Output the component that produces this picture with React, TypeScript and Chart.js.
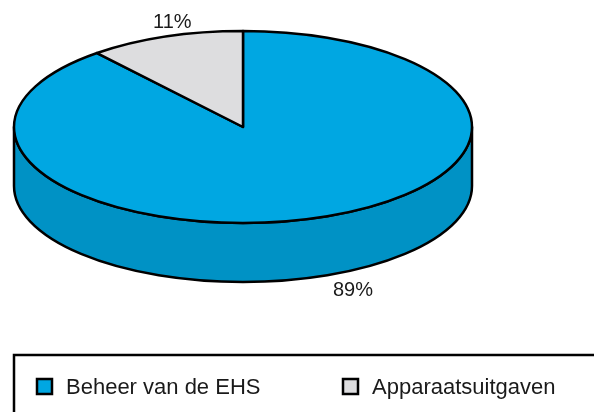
import React, { useEffect, useRef } from "react";
import { Chart, registerables } from "chart.js";

Chart.register(...registerables);

const categories = ["Beheer van de EHS", "Apparaatsuitgaven"];
const shares = [89, 11];
const shareLabels = ["89%", "11%"];
const topColors = ["#00A7E2", "#DDDDDF"];
const sideColors = ["#0092C5", "#BDBDC0"];

const FONT = "'Liberation Sans', Arial, sans-serif";

const pie3d = {
  id: "pie3d",
  beforeDatasetsDraw(chart: any) {
    const { ctx, chartArea } = chart;
    const meta = chart.getDatasetMeta(0);
    const depth = 59;
    const rx = (chartArea.right - chartArea.left) / 2;
    const ry = (chartArea.bottom - chartArea.top - depth) / 2;
    const cx = (chartArea.left + chartArea.right) / 2;
    const cy = chartArea.top + ry;
    const TWO = Math.PI * 2;
    ctx.save();
    ctx.lineWidth = 2.5;
    ctx.strokeStyle = "#000";
    ctx.lineJoin = "round";
    const arcs = meta.data.map((arc: any) => arc.getProps(["startAngle", "endAngle"], true));
    // side walls (front half only)
    arcs.forEach((p: any, i: number) => {
      const s = p.startAngle;
      const e = p.endAngle;
      for (let k = -1; k <= 1; k++) {
        const a = Math.max(s, TWO * k);
        const b = Math.min(e, Math.PI + TWO * k);
        if (a < b) {
          ctx.beginPath();
          ctx.ellipse(cx, cy, rx, ry, 0, a, b, false);
          ctx.lineTo(cx + rx * Math.cos(b), cy + depth + ry * Math.sin(b));
          ctx.ellipse(cx, cy + depth, rx, ry, 0, b, a, true);
          ctx.closePath();
          ctx.fillStyle = sideColors[i];
          ctx.fill();
          ctx.stroke();
        }
      }
    });
    // top faces
    arcs.forEach((p: any, i: number) => {
      ctx.beginPath();
      ctx.moveTo(cx, cy);
      ctx.ellipse(cx, cy, rx, ry, 0, p.startAngle, p.endAngle, false);
      ctx.closePath();
      ctx.fillStyle = chart.data.datasets[0].backgroundColor[i];
      ctx.fill();
      ctx.stroke();
    });
    // percentage labels
    ctx.fillStyle = "#1a1a1a";
    ctx.font = `20px ${FONT}`;
    ctx.textAlign = "left";
    ctx.textBaseline = "middle";
    arcs.forEach((p: any, i: number) => {
      const mid = (p.startAngle + p.endAngle) / 2;
      const sn = Math.sin(mid);
      const x = cx + 1.16 * rx * Math.cos(mid);
      const y = cy + 1.16 * ry * sn + (sn > 0 ? depth : 0);
      ctx.fillText(shareLabels[i], x, y);
    });
    ctx.restore();
    return false;
  },
};

const boxLegend = {
  id: "boxLegend",
  afterDraw(chart: any) {
    const { ctx } = chart;
    ctx.save();
    ctx.lineWidth = 2.5;
    ctx.strokeStyle = "#000";
    ctx.strokeRect(14, 355, 600, 80);
    const itemX = [36, 342];
    ctx.font = `22px ${FONT}`;
    ctx.textAlign = "left";
    ctx.textBaseline = "alphabetic";
    chart.data.labels.forEach((lab: string, i: number) => {
      const x = itemX[i];
      ctx.fillStyle = chart.data.datasets[0].backgroundColor[i];
      ctx.fillRect(x + 1, 379, 15, 15);
      ctx.lineWidth = 2.5;
      ctx.strokeRect(x + 1, 379, 15, 15);
      ctx.fillStyle = "#1a1a1a";
      ctx.fillText(lab, x + 30, 394);
    });
    ctx.restore();
  },
};

export default function App() {
  const ref = useRef<HTMLCanvasElement | null>(null);
  useEffect(() => {
    if (!ref.current) return;
    const chart = new Chart(ref.current, {
      type: "pie",
      data: {
        labels: categories,
        datasets: [
          {
            data: shares,
            backgroundColor: topColors,
            borderWidth: 0,
          },
        ],
      },
      options: {
        responsive: false,
        maintainAspectRatio: false,
        animation: false,
        layout: { padding: { left: 14, right: 122, top: 31, bottom: 130 } },
        plugins: {
          legend: { display: false },
          tooltip: { enabled: false },
        },
      },
      plugins: [pie3d, boxLegend],
    } as any);
    return () => chart.destroy();
  }, []);
  return (
    <div style={{ position: "fixed", left: 0, top: 0, width: 594, height: 412, background: "#fff", overflow: "hidden" }}>
      <canvas ref={ref} width={594} height={412} style={{ display: "block" }} />
    </div>
  );
}
